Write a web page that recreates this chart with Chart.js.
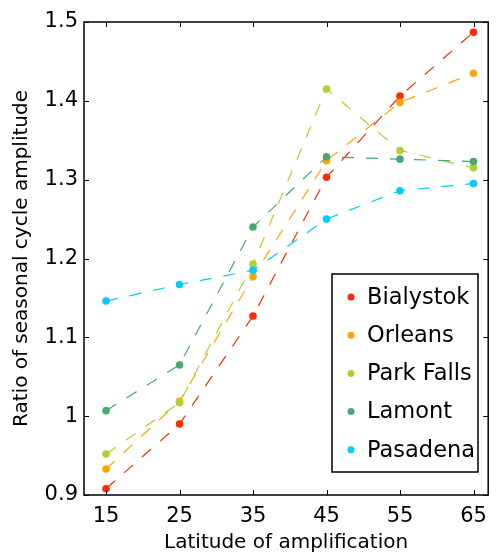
<!DOCTYPE html>
<html>
<head>
<meta charset="utf-8">
<script src="https://cdn.jsdelivr.net/npm/chart.js@4"></script>
<style>
  html, body { margin: 0; padding: 0; background: #fff; }
  #wrap { width: 496px; height: 552px; }
</style>
</head>
<body>
<div id="wrap"><canvas id="ratioChart" width="496" height="552"></canvas></div>
<script>
// Latitude of amplification (x) and ratio of seasonal cycle amplitude per site
const latitudes = [15, 25, 35, 45, 55, 65];
const xTicks = [15, 25, 35, 45, 55, 65];
const yTicks = [0.9, 1.0, 1.1, 1.2, 1.3, 1.4, 1.5];

const bialystok = [0.908, 0.990, 1.127, 1.303, 1.406, 1.487];
const orleans   = [0.933, 1.019, 1.177, 1.324, 1.398, 1.435];
const parkFalls = [0.952, 1.017, 1.193, 1.415, 1.337, 1.315];
const lamont    = [1.007, 1.065, 1.240, 1.329, 1.326, 1.323];
const pasadena  = [1.146, 1.167, 1.185, 1.250, 1.286, 1.295];

const siteNames = ['Bialystok', 'Orleans', 'Park Falls', 'Lamont', 'Pasadena'];
const siteValues = [bialystok, orleans, parkFalls, lamont, pasadena];
const siteColors = ['#ff2a00', '#ffa500', '#b0d030', '#48a874', '#00ccff'];

const FONT = 'DejaVu Sans';

const datasets = siteNames.map(function (name, i) {
    return {
        label: name,
        data: latitudes.map((x, j) => ({ x: x, y: siteValues[i][j] })),
        borderColor: siteColors[i],
        backgroundColor: siteColors[i],
        borderWidth: 1.2,
        borderDash: [12, 12],
        pointRadius: 3.8,
        pointBorderWidth: 0,
        pointHoverRadius: 3.8,
        fill: false,
        tension: 0,
        order: siteNames.length - i
    };
});

// Frame, inward ticks and the boxed legend
const framePlugin = {
    id: 'frame',
    afterDraw(chart) {
        const ctx = chart.ctx;
        const a = chart.chartArea;
        const xs = chart.scales.x;
        const ys = chart.scales.y;
        ctx.save();
        ctx.strokeStyle = '#000';
        ctx.lineWidth = 1.5;
        ctx.strokeRect(a.left, a.top, a.right - a.left, a.bottom - a.top);

        ctx.lineWidth = 1;
        const t = 5;
        ctx.beginPath();
        xTicks.forEach(function (v) {
            const px = Math.round(xs.getPixelForValue(v)) + 0.5;
            ctx.moveTo(px, a.bottom); ctx.lineTo(px, a.bottom - t);
            ctx.moveTo(px, a.top); ctx.lineTo(px, a.top + t);
        });
        yTicks.forEach(function (v) {
            const py = Math.round(ys.getPixelForValue(v)) + 0.5;
            ctx.moveTo(a.left, py); ctx.lineTo(a.left + t, py);
            ctx.moveTo(a.right, py); ctx.lineTo(a.right - t, py);
        });
        ctx.stroke();

        // legend box
        const bx = 332, by = 274, bw = 146, bh = 198;
        ctx.fillStyle = '#fff';
        ctx.fillRect(bx, by, bw, bh);
        ctx.lineWidth = 1.5;
        ctx.strokeRect(bx, by, bw, bh);
        ctx.font = '22.5px "' + FONT + '"';
        ctx.textBaseline = 'middle';
        ctx.textAlign = 'left';
        siteNames.forEach(function (name, i) {
            const cy = by + 23 + i * 38.2;
            ctx.fillStyle = siteColors[i];
            ctx.beginPath();
            ctx.arc(bx + 19, cy, 3.5, 0, Math.PI * 2);
            ctx.fill();
            ctx.fillStyle = '#000';
            ctx.fillText(name, bx + 35, cy + 1);
        });
        ctx.restore();
    }
};

const ctx = document.getElementById('ratioChart').getContext('2d');
new Chart(ctx, {
    type: 'line',
    data: { datasets: datasets },
    options: {
        responsive: false,
        animation: false,
        devicePixelRatio: 1,
        layout: { padding: { top: 22, right: 1, left: 0, bottom: 0 } },
        plugins: {
            legend: { display: false },
            tooltip: { enabled: false }
        },
        scales: {
            x: {
                type: 'linear',
                min: 12,
                max: 67,
                afterFit(scale) { scale.height = 57; },
                afterBuildTicks(scale) { scale.ticks = xTicks.map(v => ({ value: v })); },
                grid: { display: false, drawTicks: false },
                border: { display: false },
                ticks: {
                    color: '#000',
                    padding: 9,
                    maxRotation: 0,
                    font: { family: FONT, size: 21 },
                    callback: v => String(v)
                },
                title: {
                    display: true,
                    text: 'Latitude of amplification',
                    color: '#000',
                    font: { family: FONT, size: 20 },
                    padding: { top: 0, bottom: -3 }
                }
            },
            y: {
                min: 0.9,
                max: 1.5,
                afterFit(scale) { scale.width = 84; },
                afterBuildTicks(scale) { scale.ticks = yTicks.map(v => ({ value: v })); },
                grid: { display: false, drawTicks: false },
                border: { display: false },
                ticks: {
                    color: '#000',
                    padding: 6,
                    font: { family: FONT, size: 21 },
                    callback: v => (Math.abs(v - 1) < 1e-9 ? '1' : v.toFixed(1))
                },
                title: {
                    display: true,
                    text: 'Ratio of seasonal cycle amplitude',
                    color: '#000',
                    font: { family: FONT, size: 20 },
                    padding: { top: 10, bottom: 0 }
                }
            }
        }
    },
    plugins: [framePlugin]
});
</script>
</body>
</html>
